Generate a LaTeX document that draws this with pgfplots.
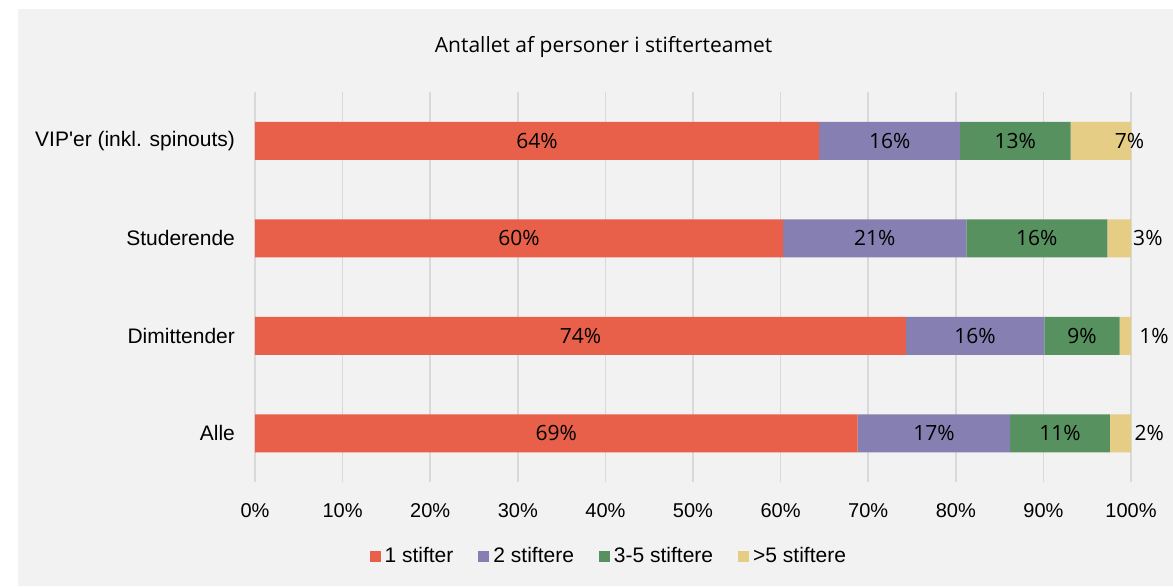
\documentclass[border=0pt]{standalone}
\usepackage{fontspec}
\setmainfont{Liberation Sans}
\newfontfamily\arial{Liberation Sans}
\newfontfamily\opensans{Open Sans}
\usepackage{pgfplots}
\usepackage{pgfplotstable}
\pgfplotsset{compat=1.18}
\usetikzlibrary{backgrounds}

\definecolor{c1}{HTML}{E8604A}
\definecolor{c2}{HTML}{8680B2}
\definecolor{c3}{HTML}{589160}
\definecolor{c4}{HTML}{E6CD86}
\definecolor{panel}{HTML}{F2F2F2}
\definecolor{gridgray}{HTML}{D9D9D9}

% share of founders team size, in percent (0 = Alle ... 3 = VIP'er)
\pgfplotstableread{
y  a    b    c    d
0  68.8 17.4 11.4 2.4
1  74.3 15.8 8.6  1.3
2  60.3 20.9 16.1 2.7
3  64.4 16.1 12.6 6.9
}\founders

\newcommand\lblfont{\opensans\fontsize{10.5}{12}\selectfont}
\pgfplotsset{
  pct label/.style={
    nodes near coords={\pgfmathprintnumber[fixed,precision=0]{\pgfplotspointmeta}\%},
    point meta=\thisrow{#1},
  },
  % stacked bars already put centre-anchored labels mid-segment
  mid label/.style={
    pct label=#1,
    every node near coord/.style={font=\lblfont, text=black, anchor=center},
  },
}

\begin{document}
\begin{tikzpicture}
\begin{axis}[
  at={(0,0)}, anchor=south west,
  scale only axis, width=438pt, height=195pt,
  xbar stacked, bar width=19pt,
  xmin=0, xmax=100, ymin=-0.5, ymax=3.5,
  xtick={0,10,...,100},
  xticklabel={\pgfmathprintnumber{\tick}\%},
  ytick={0,1,2,3},
  yticklabels={Alle,Dimittender,Studerende,VIP'er (inkl. spinouts)},
  axis line style={draw=none},
  tick style={draw=none},
  xmajorgrids, grid style={gridgray, line width=0.75pt},
  /pgf/number format/assume math mode=true,
  xticklabel style={font=\arial\fontsize{10}{12}\selectfont, yshift=-7pt},
  yticklabel style={font=\arial\fontsize{10.5}{12}\selectfont, xshift=-6.5pt},
  legend style={at={(0.405,-0.192)}, anchor=center, legend columns=4,
    draw=none, fill=none, font=\arial\fontsize{10.5}{12}\selectfont,
    /tikz/every even column/.append style={column sep=10.5pt}},
  legend image code/.code={\fill[#1] (0pt,-2.75pt) rectangle (5.5pt,2.75pt);},
  title={Antallet af personer i stifterteamet},
  title style={at={(0.398,1.085)}, anchor=center, font=\lblfont},
]
\addplot[fill=c1, draw=none, mid label=a] table[x=a, y=y] {\founders};
\addplot[fill=c2, draw=none, mid label=b] table[x=b, y=y] {\founders};
\addplot[fill=c3, draw=none, mid label=c] table[x=c, y=y] {\founders};
\addplot[fill=c4, draw=none, pct label=d,
  every node near coord/.style={font=\lblfont, text=black, anchor=west, xshift=3.5pt}]
  table[x=d, y=y] {\founders};
\legend{1 stifter, 2 stiftere, 3-5 stiftere, >5 stiftere}
\end{axis}
\begin{scope}[on background layer]
  \fill[white] (-127.5pt,-52pt) rectangle (459pt,241pt);
  \fill[panel] (-118.5pt,-52pt) rectangle (459pt,236.5pt);
\end{scope}
\pgfresetboundingbox
\useasboundingbox (-127.5pt,-52pt) rectangle (459pt,241pt);
\end{tikzpicture}
\end{document}
